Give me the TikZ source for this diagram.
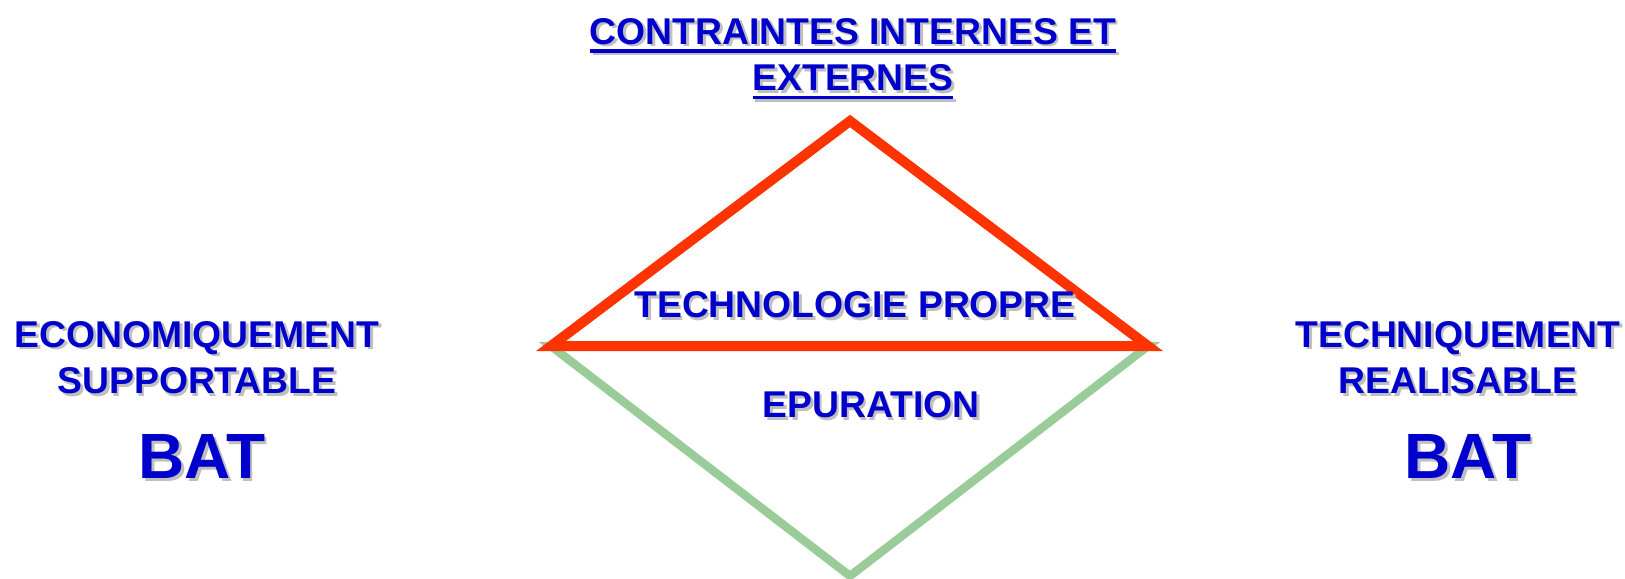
\documentclass[tikz,border=0pt]{standalone}
\usepackage{fontspec}
\setmainfont{Liberation Sans}
\definecolor{texte}{HTML}{0000CC}
\definecolor{rouge}{HTML}{FF3300}
\definecolor{vert}{HTML}{99CC99}
% ombre grise sous le texte, soulignement epais
\newcommand\ombre[1]{\makebox[0pt][l]{\hspace{0.75pt}\raisebox{-0.75pt}{\color{gray!50}#1}}#1}
\newcommand\souligne[1]{\setbox0\hbox{#1}\makebox[0pt][l]{\rule[-2.4pt]{\wd0}{0.95pt}}\box0}
\tikzset{
	titre/.style={text=texte, font=\bfseries\fontsize{10.6}{13.3}\selectfont, align=center, inner sep=0pt},
	grand/.style={text=texte, font=\bfseries\fontsize{18.2}{21}\selectfont, inner sep=0pt},
}
\begin{document}
\begin{tikzpicture}[x=0.01cm, y=-0.01cm, line join=miter]
	\useasboundingbox (0,0) rectangle (1625,578);
	% sommets
	\coordinate (H) at (850,121);
	\coordinate (G) at (551,346);
	\coordinate (D) at (1148,346);
	\coordinate (B) at (850,576);
	% epuration (vert) puis technologie propre (rouge)
	\draw[vert, line width=2.4pt] (G)--(B)--(D)--cycle;
	\draw[rouge, line width=2.85pt] (H)--(G)--(D)--cycle;
	\node[titre] (contraintes) at (853,60) {\ombre{\souligne{CONTRAINTES INTERNES ET}}\\\ombre{\souligne{EXTERNES}}};
	\node[titre] (propre) at (855,306) {\ombre{TECHNOLOGIE PROPRE}};
	\node[titre] (epuration) at (871,406) {\ombre{EPURATION}};
	\node[titre] (eco) at (197,359) {\ombre{ECONOMIQUEMENT}\\\ombre{SUPPORTABLE}};
	\node[grand] (batG) at (202,458) {\ombre{BAT}};
	\node[titre] (tech) at (1458,359) {\ombre{TECHNIQUEMENT}\\\ombre{REALISABLE}};
	\node[grand] (batD) at (1468,458) {\ombre{BAT}};
\end{tikzpicture}
\end{document}
